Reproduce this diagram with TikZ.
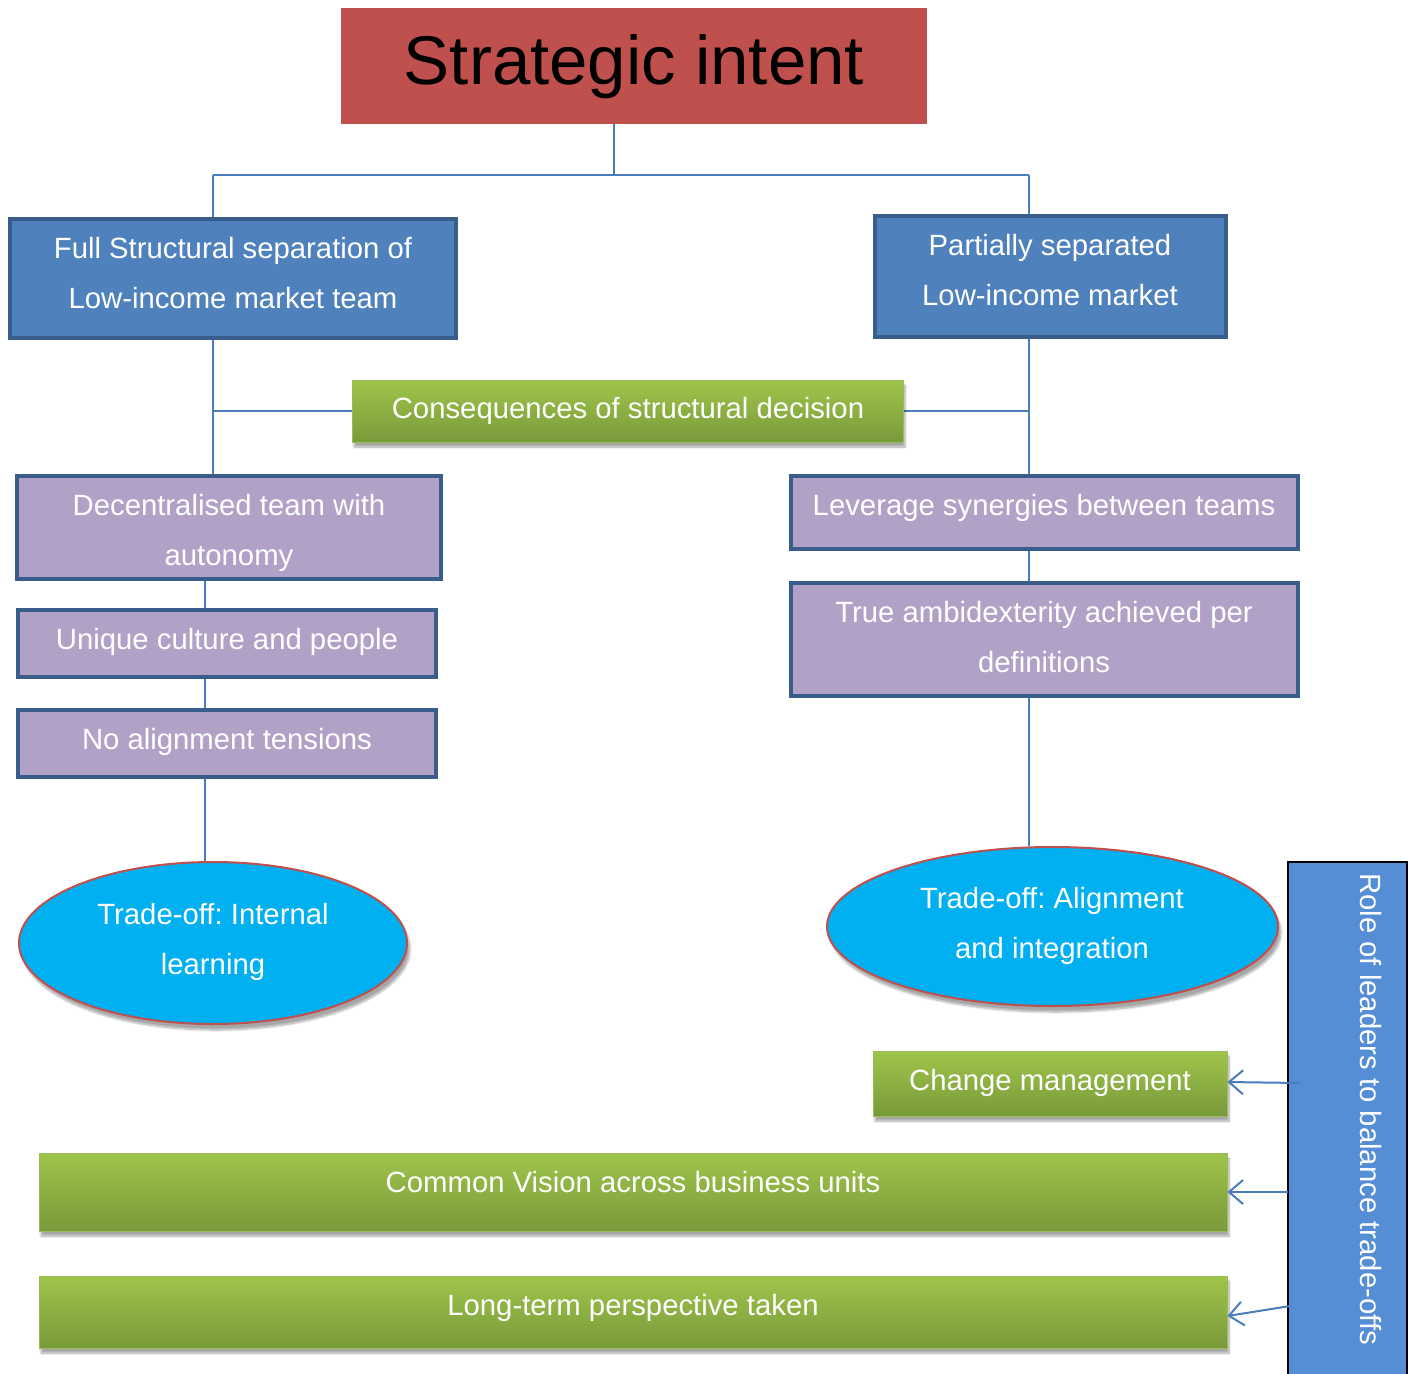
\documentclass[tikz,border=0pt]{standalone}
\usepackage{fontspec}
\setmainfont{Liberation Sans}
\usetikzlibrary{shapes.geometric,arrows.meta,backgrounds,shadows.blur}
\frenchspacing

\definecolor{stratred}{HTML}{C0504D}
\definecolor{boxblue}{HTML}{4F81BD}
\definecolor{edgeblue}{HTML}{385D8A}
\definecolor{lilac}{HTML}{B2A1C7}
\definecolor{linkblue}{HTML}{4A7EBB}
\definecolor{greentop}{HTML}{9FC54B}
\definecolor{greenbot}{HTML}{789A3A}
\definecolor{greenedge}{HTML}{9BBB59}
\definecolor{cyanfill}{HTML}{00B0F0}
\definecolor{sidebar}{HTML}{558ED5}

\tikzset{
  txt/.style={font=\fontsize{29.3}{50}\selectfont, text=white, align=center, inner sep=0pt},
  bluebox/.style={rectangle, fill=boxblue, draw=edgeblue, line width=4pt, inner sep=0pt},
  lilacbox/.style={rectangle, fill=lilac, draw=edgeblue, line width=4pt, inner sep=0pt},
  greenbox/.style={rectangle, top color=greentop, bottom color=greenbot, draw=greenedge,
    line width=1pt, inner sep=0pt,
    blur shadow={shadow xshift=2pt, shadow yshift=-5pt, shadow blur steps=8, shadow opacity=35}},
  tradeoff/.style={ellipse, fill=cyanfill, draw=stratred, line width=2pt, inner sep=0pt,
    blur shadow={shadow xshift=3pt, shadow yshift=-6pt, shadow blur steps=8, shadow opacity=35}},
  link/.style={draw=linkblue, line width=2pt},
  pointer/.style={draw=linkblue, line width=2pt, -{Straight Barb[length=14pt,width=24pt,line width=2pt]}},
}

\begin{document}
\begin{tikzpicture}[x=1pt,y=-1pt]
\useasboundingbox (0,0) rectangle (1413,1373);

% top of the hierarchy
\node[rectangle, fill=stratred, minimum width=586pt, minimum height=116pt, inner sep=0pt] (strat) at (634,66) {};
\node[font=\fontsize{69}{80}\selectfont, inner sep=0pt] (strattxt) at (634,67) {Strategic intent};

% the two structural options
\node[bluebox, minimum width=446pt, minimum height=119pt] (fullsep) at (233,278.5) {};
\node[txt] (fullseptxt) at (233,273) {Full Structural separation of\\Low-income market team};
\node[bluebox, minimum width=351pt, minimum height=121pt] (partial) at (1050.5,276.5) {};
\node[txt] (partialtxt) at (1050,270.5) {Partially separated\\Low-income market};

\node[greenbox, minimum width=551pt, minimum height=62pt] (conseq) at (627.5,411) {};
\node[txt] (conseqtxt) at (628,411) {Consequences of structural decision};

% left branch
\node[lilacbox, minimum width=424pt, minimum height=103pt] (decent) at (229,527.5) {};
\node[txt] (decenttxt) at (229,533) {Decentralised team with\\autonomy};
\node[lilacbox, minimum width=418pt, minimum height=67pt] (unique) at (227,643.5) {};
\node[txt] (uniquetxt) at (227,642) {Unique culture and people};
\node[lilacbox, minimum width=418pt, minimum height=67pt] (noalign) at (227,743.5) {};
\node[txt] (noaligntxt) at (227,742) {No alignment tensions};
\node[tradeoff, minimum width=388pt, minimum height=162pt] (ellL) at (213,943) {};
\node[txt] (ellLtxt) at (213,942) {Trade-off: Internal\\learning};

% right branch
\node[lilacbox, minimum width=507pt, minimum height=73pt] (lever) at (1044.5,512.5) {};
\node[txt] (levertxt) at (1044,508) {Leverage synergies between teams};
\node[lilacbox, minimum width=507pt, minimum height=113pt] (trueamb) at (1044.5,639.5) {};
\node[txt] (trueambtxt) at (1044,637) {True ambidexterity achieved per\\definitions};
\node[tradeoff, minimum width=451pt, minimum height=159pt] (ellR) at (1052.5,926.5) {};
\node[txt] (ellRtxt) at (1052,925.5) {Trade-off: Alignment\\and integration};

% leadership levers
\node[greenbox, minimum width=354pt, minimum height=65pt] (change) at (1050,1083.5) {};
\node[txt] (changetxt) at (1050,1082.5) {Change management};
\node[greenbox, minimum width=1188pt, minimum height=78pt] (common) at (633,1192) {};
\node[txt] (commontxt) at (633,1182) {Common Vision across business units};
\node[greenbox, minimum width=1188pt, minimum height=72pt] (longterm) at (633,1312) {};
\node[txt] (longtxt) at (633,1308) {Long-term perspective taken};

\node[rectangle, fill=sidebar, draw=black, line width=2pt, minimum width=119pt,
      minimum height=516pt, inner sep=0pt] (role) at (1347.5,1120) {};
\node[txt, rotate=-90] (roletxt) at (1371,1109) {Role of leaders to balance trade-offs};

% junction points of the connector lines
\coordinate (jT) at (614,175);
\coordinate (jL) at (213,175);
\coordinate (jR) at (1029,175);
\coordinate (cL) at (205,0);
\coordinate (a1) at (1300,1083);
\coordinate (a2) at (1288,1192);
\coordinate (a3) at (1290,1306);

\begin{scope}[on background layer]
  \draw[link] (strat.south -| jT) -- (jT);
  \draw[link] (jL) -- (jR);
  \draw[link] (jL) -- (fullsep.north -| jL);
  \draw[link] (jR) -- (partial.north -| jR);
  \draw[link] (fullsep.south -| jL) -- (decent.north -| jL);
  \draw[link] (partial.south -| jR) -- (lever.north -| jR);
  \draw[link] (conseq.west) -- (conseq.west -| jL);
  \draw[link] (conseq.east) -- (conseq.east -| jR);
  \draw[link] (decent.south -| cL) -- (unique.north -| cL);
  \draw[link] (unique.south -| cL) -- (noalign.north -| cL);
  \draw[link] (noalign.south -| cL) -- (ellL.north -| cL);
  \draw[link] (lever.south -| jR) -- (trueamb.north -| jR);
  \draw[link] (trueamb.south -| jR) -- (ellR.north -| jR);
\end{scope}

\draw[pointer] (a1) -- ([yshift=1.5pt]change.east);
\draw[pointer] (a2) -- (common.east);
\draw[pointer] (a3) -- ([yshift=-4pt]longterm.east);
\end{tikzpicture}
\end{document}
